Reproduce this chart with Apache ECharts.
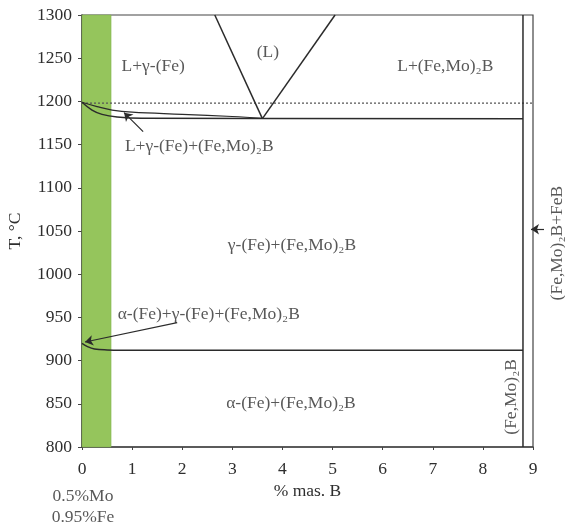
<!DOCTYPE html>
<html>
<head>
<meta charset="utf-8">
<script src="https://cdn.jsdelivr.net/npm/echarts@6/dist/echarts.min.js"></script>
<style>html,body{margin:0;padding:0;background:#fff}#c{width:565px;height:522px}</style>
</head>
<body>
<div id="c"></div>
<script>
// ---- data ----
const xRange = [0, 9];
const yRange = [800, 1300];
const greenBand = [[0, 800], [0.58, 1300]];
const liquidusLeft = [[2.65, 1300], [3.6, 1180]];
const liquidusRight = [[3.6, 1180], [5.05, 1300]];
const eutecticLine = [[0, 1199], [0.2, 1190], [0.4, 1185], [0.7, 1182], [1.2, 1180.5], [8.8, 1180]];
const upperCurve = [[0, 1199], [0.3, 1194], [0.6, 1190], [1, 1187.5], [2, 1185], [3, 1182.5], [3.6, 1180.5]];
const dottedLine = [[0, 1198], [9, 1198]];
const eutectoidLine = [[0, 920], [0.1, 916.5], [0.25, 913.5], [0.5, 912.3], [0.8, 912], [8.8, 912]];
const boridePhase = [[8.8, 800], [8.8, 1300]];
const arrows = [
  [[1.22, 1165], [0.84, 1187]],
  [[1.9, 944], [0.06, 921.5]],
  [[9.22, 1052], [8.96, 1052]]
];
const labels = [
  { text: 'L+γ-(Fe)', pos: [1.42, 1241], rotate: 0 },
  { text: '(L)', pos: [3.71, 1257], rotate: 0 },
  { text: 'L+(Fe,Mo)₂B', pos: [7.25, 1241], rotate: 0 },
  { text: 'L+γ-(Fe)+(Fe,Mo)₂B', pos: [2.34, 1148], rotate: 0 },
  { text: 'γ-(Fe)+(Fe,Mo)₂B', pos: [4.19, 1033], rotate: 0 },
  { text: 'α-(Fe)+γ-(Fe)+(Fe,Mo)₂B', pos: [2.53, 954], rotate: 0 },
  { text: 'α-(Fe)+(Fe,Mo)₂B', pos: [4.17, 851], rotate: 0 },
  { text: '(Fe,Mo)₂B', pos: [8.56, 858], rotate: 90 },
  { text: '(Fe,Mo)₂B+FeB', pos: [9.48, 1036], rotate: 90 },
  { text: '0.5%Mo', pos: [0.02, 743], rotate: 0 },
  { text: '0.95%Fe', pos: [0.02, 719], rotate: 0 }
];
const xName = '% mas. B';
const yName = 'T, °C';

// ---- chart ----
const FONT = '"Liberation Serif", "DejaVu Serif", serif';
const FS = 17.5;
const TXT = '#2e2e2e';
const LINE = '#2b2b2b';
const chart = echarts.init(document.getElementById('c'), null, { renderer: 'canvas' });

function lineSeries(data, extra) {
  return Object.assign({
    type: 'line', data: data, symbol: 'none', smooth: false, silent: true,
    lineStyle: { color: LINE, width: 1.5 }, z: 3
  }, extra || {});
}

chart.setOption({
  animation: false,
  backgroundColor: '#fff',
  grid: {
    left: 82, right: 32, top: 15, bottom: 75, outerBoundsMode: 'none', containLabel: false,
    show: true, borderColor: '#444', borderWidth: 1.2, backgroundColor: 'transparent'
  },
  xAxis: {
    type: 'value', min: xRange[0], max: xRange[1], interval: 1,
    name: xName, nameLocation: 'middle', nameGap: 34,
    nameTextStyle: { fontFamily: FONT, fontSize: FS, color: TXT },
    axisLine: { show: true, lineStyle: { color: '#444', width: 1.5 } },
    axisTick: { show: true, length: 3, lineStyle: { color: '#444' } },
    axisLabel: { fontFamily: FONT, fontSize: FS, color: TXT, margin: 13, formatter: v => String(v) },
    splitLine: { show: false }
  },
  yAxis: {
    type: 'value', min: yRange[0], max: yRange[1], interval: 50,
    name: yName, nameLocation: 'middle', nameGap: 58, nameRotate: 90,
    nameTextStyle: { fontFamily: FONT, fontSize: FS, color: TXT },
    axisLine: { show: true, lineStyle: { color: '#444', width: 1.5 } },
    axisTick: { show: true, length: 4, lineStyle: { color: '#444' } },
    axisLabel: { fontFamily: FONT, fontSize: FS, color: TXT, margin: 10, formatter: v => String(v) },
    splitLine: { show: false }
  },
  series: [
    lineSeries([], {
      z: 1,
      markArea: {
        silent: true,
        itemStyle: { color: '#95c55c', borderColor: '#7fae48', borderWidth: 0.5 },
        data: [[{ coord: greenBand[0] }, { coord: greenBand[1] }]]
      }
    }),
    lineSeries(dottedLine, { lineStyle: { color: '#555', width: 1.2, type: [2, 2] } }),
    lineSeries(liquidusLeft),
    lineSeries(liquidusRight),
    lineSeries(eutecticLine, { smooth: 0.4 }),
    lineSeries(upperCurve, { smooth: 0.4, lineStyle: { color: LINE, width: 1.2 } }),
    lineSeries(eutectoidLine, { smooth: 0.4 }),
    lineSeries(boridePhase),
    {
      type: 'lines', coordinateSystem: 'cartesian2d', silent: true, clip: false, z: 4,
      symbol: ['none', 'arrow'], symbolSize: 8,
      lineStyle: { color: LINE, width: 1.2, opacity: 1 },
      data: arrows.map(a => ({ coords: a }))
    },
    {
      type: 'scatter', silent: true, clip: false, symbolSize: 0, z: 5,
      data: labels.map(l => ({
        value: l.pos,
        label: {
          show: true, position: 'inside', formatter: l.text, rotate: l.rotate,
          fontFamily: FONT, fontSize: FS, color: TXT
        }
      }))
    }
  ]
});
</script>
</body>
</html>
